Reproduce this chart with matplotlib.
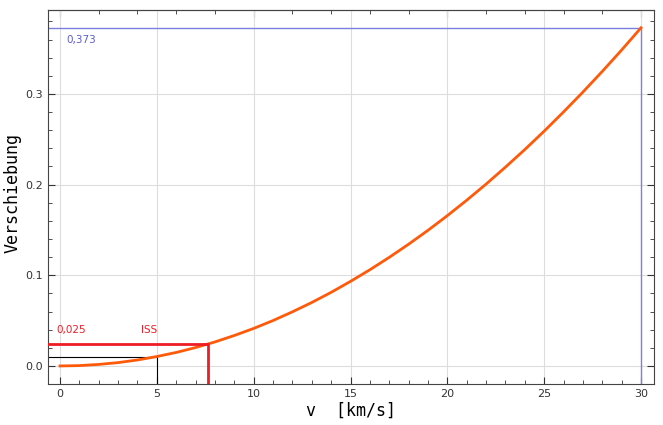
import numpy as np
import matplotlib.pyplot as plt
from matplotlib.ticker import MultipleLocator, NullFormatter

# Werte
v = [0, 1, 2, 3, 4, 5, 6, 7, 8, 9, 10, 11, 12, 13, 14, 15, 16, 17, 18, 19,
     20, 21, 22, 23, 24, 25, 26, 27, 28, 29, 30]
versch = [0.0, 0.0004, 0.0017, 0.0037, 0.0066, 0.0104, 0.0149, 0.0203, 0.0265,
          0.0336, 0.0414, 0.0501, 0.0597, 0.0700, 0.0812, 0.0933, 0.1061, 0.1198,
          0.1343, 0.1496, 0.1658, 0.1828, 0.2006, 0.2193, 0.2387, 0.2590, 0.2802,
          0.3021, 0.3249, 0.3485, 0.373]

v_iss, y_iss = 7.66, 0.0243
v_5, y_5 = 5, 0.0104
v_max, y_max = 30, 0.373

fig = plt.figure(figsize=(6.63, 4.25), dpi=100)
ax = fig.add_axes([48 / 663, 41 / 425, 606 / 663, 374 / 425])

xmin, xmax = -0.62, 30.67
ymin, ymax = -0.0199, 0.3926
ax.set_xlim(xmin, xmax)
ax.set_ylim(ymin, ymax)

ax.grid(True, color='#dddddd', linewidth=0.8)
ax.set_axisbelow(True)

ax.plot(v, versch, color='#ff5a0a', linewidth=2, zorder=3)

# Hilfslinien
ax.plot([xmin, v_5, v_5], [y_5, y_5, ymin], color='black', linewidth=0.8, zorder=2)
ax.plot([xmin, v_iss, v_iss], [y_iss, y_iss, ymin], color='#ee1c25', linewidth=2, zorder=4)
ax.plot([xmin, v_max, v_max], [y_max, y_max, ymin], color='#7b7fe0', linewidth=1, zorder=2)

ax.text(-0.2, 0.0365, '0,025', color='#ee1c25', fontsize=7.5)
ax.text(4.2, 0.0365, 'ISS', color='#ee1c25', fontsize=7.5)
ax.text(0.35, 0.356, '0,373', color='#5a5ed0', fontsize=7.5)

ax.xaxis.set_major_locator(MultipleLocator(5))
ax.xaxis.set_minor_locator(MultipleLocator(1))
ax.yaxis.set_major_locator(MultipleLocator(0.1))
ax.yaxis.set_minor_locator(MultipleLocator(0.02))
ax.tick_params(which='both', direction='in', right=True,
               labelsize=8, colors='#333333')
ax.tick_params(which='major', length=5)
ax.tick_params(which='minor', length=3)
ax.set_yticks([0.0, 0.1, 0.2, 0.3])
ax.set_yticklabels(['0.0', '0.1', '0.2', '0.3'])

# oben andere Teilung
top = ax.secondary_xaxis('top')
top.xaxis.set_major_locator(MultipleLocator(10))
top.xaxis.set_minor_locator(MultipleLocator(2))
top.xaxis.set_major_formatter(NullFormatter())
top.tick_params(which='both', direction='in', colors='#333333')
top.tick_params(which='major', length=5)
top.tick_params(which='minor', length=3)
top.spines['top'].set_color('#444444')

for s in ax.spines.values():
    s.set_color('#444444')

ax.set_xlabel('v  [km/s]', fontsize=12, family='DejaVu Sans Mono', labelpad=2)
fig.text(13 / 663, 1 - 193 / 425, 'Verschiebung', fontsize=12,
         family='DejaVu Sans Mono', rotation=90, ha='center', va='center')

fig.savefig('out.png', dpi=100)
